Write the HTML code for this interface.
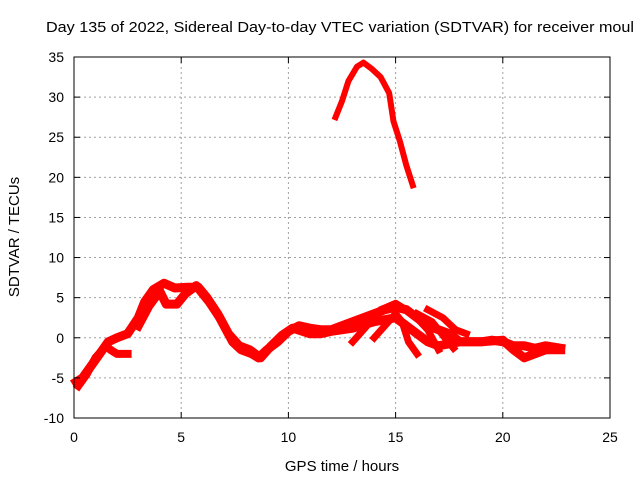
<!DOCTYPE html>
<html><head><meta charset="utf-8"><style>
html,body{margin:0;padding:0;background:#fff;overflow:hidden}
svg{display:block;font-family:"Liberation Sans",sans-serif}
</style></head><body>
<svg id="chart" width="640" height="480">
<text x="46" y="32" font-size="15" textLength="588" lengthAdjust="spacingAndGlyphs" fill="#000">Day 135 of 2022, Sidereal Day-to-day VTEC variation (SDTVAR) for receiver moul</text>
<g id="grid"></g>
<g id="series"></g>
<rect x="74" y="57" width="536" height="361" fill="none" stroke="#000" stroke-width="1"/>
<g id="ticks"></g>
<text x="342" y="471" font-size="15" text-anchor="middle">GPS time / hours</text>
<text transform="translate(19,237) rotate(-90)" font-size="15" text-anchor="middle">SDTVAR / TECUs</text>
</svg>
<script>
const xTicks=[0,5,10,15,20,25];
const yTicks=[-10,-5,0,5,10,15,20,25,30,35];
const traceA_x=[0.1,0.4,0.8,1.2,1.6,2,2.5,3,3.3,3.7,4.2,4.7,5.3,5.8,6.2,6.7,7,7.4,7.8,8.3,8.6,9,9.5,10,10.5,11,11.5,12,12.5,13,13.5,14,14.5,15,15.5,16,16.5,17,17.5,18,18.5,19,19.5,20,20.5,21,21.5,22,22.7];
const traceA_y=[-5.5,-5,-3.5,-2,-0.5,0,0.5,2.5,4.5,6,6.8,6.2,6.3,6.3,5,3,1.5,-0.5,-1.5,-2,-2.5,-1.5,-0.5,0.8,1.5,1.2,1,1,1.5,2,2.5,3,3.5,3.8,3.5,2.5,1.5,1,0.5,-0.5,-0.5,-0.5,-0.3,-0.5,-1,-1,-1.3,-1,-1.3];
const traceB_x=[0.2,0.6,1,1.5,1.7,2,2.5];
const traceB_y=[-6,-4.5,-2.5,-1,-1.5,-2,-2];
const traceC_x=[3,3.5,4,4.3,4.8,5.2,5.7,6.3,6.8,7.2,7.7,8.2,8.7,9.2,9.7,10.2,11,11.5,12,13,14,15,15.5,16,16.5,17,18,19,20,20.5,21,21.5,22,22.7];
const traceC_y=[1.5,4,5.8,4.2,4.2,5.5,6.5,4.5,2.5,0.5,-1,-1.5,-2.5,-1,0.3,1.2,0.5,0.5,0.8,1.2,2,2.5,1.5,0.5,-0.5,-1,-0.5,-0.5,-0.3,-1.5,-2.5,-2,-1.5,-1.5];
const traceD_x=[14,14.5,15,15.3,15.6,16];
const traceD_y=[0,1.5,3,2,-0.5,-2];
const traceE_x=[13,13.5,14.3,15,15.8,16.5,17];
const traceE_y=[-0.5,1,3.5,4.3,3,1,-1.5];
const traceF_x=[16,16.7,17.3,17.7];
const traceF_y=[3,2,0,-1.3];
const traceG_x=[16.5,17.2,17.8,18.3];
const traceG_y=[3.5,2.5,1,0.5];
const traceTop_x=[12.2,12.5,12.8,13.2,13.5,13.9,14.3,14.7,14.9,15.2,15.5,15.8];
const traceTop_y=[27.5,29.5,32,33.8,34.3,33.5,32.5,30.5,27,24.5,21.5,19];
const NS='http://www.w3.org/2000/svg';
function sx(v){return 74+v*(536/25);}
function sy(v){return 418-(v+10)*(361/45);}
const grid=document.getElementById('grid'),ticks=document.getElementById('ticks'),series=document.getElementById('series');
function mk(t,a,p){const e=document.createElementNS(NS,t);for(const k in a)e.setAttribute(k,a[k]);p.appendChild(e);return e;}
xTicks.forEach(v=>{const x=sx(v);
 if(v>0&&v<25){const g=mk('line',{x1:x,y1:57,x2:x,y2:418,stroke:'#a0a0a0','stroke-dasharray':'2,3'},grid);
 
 }
 mk('line',{x1:x,y1:418,x2:x,y2:412,stroke:'#000'},ticks);mk('line',{x1:x,y1:57,x2:x,y2:63,stroke:'#000'},ticks);
 const t=mk('text',{x:x,y:442,'font-size':14,'text-anchor':'middle'},ticks);t.textContent=v;
 
 });
yTicks.forEach(v=>{const y=sy(v);
 if(v>-10&&v<35){const g=mk('line',{x1:74,y1:y,x2:610,y2:y,stroke:'#a0a0a0','stroke-dasharray':'2,3'},grid);
 
 }
 mk('line',{x1:74,y1:y,x2:80,y2:y,stroke:'#000'},ticks);mk('line',{x1:610,y1:y,x2:604,y2:y,stroke:'#000'},ticks);
 const t=mk('text',{x:64,y:y+5,'font-size':14,'text-anchor':'end'},ticks);t.textContent=v;
 
 });
const traces=[[traceA_x,traceA_y,9],[traceB_x,traceB_y,8],[traceC_x,traceC_y,9],[traceD_x,traceD_y,7],[traceE_x,traceE_y,7],[traceF_x,traceF_y,7],[traceG_x,traceG_y,7],[traceTop_x,traceTop_y,6]];
traces.forEach(([xs,ys,w])=>{const pts=xs.map((x,i)=>sx(x)+','+sy(ys[i])).join(' ');
 const p=mk('polyline',{points:pts,fill:'none',stroke:'#ff0000','stroke-width':w,'stroke-linejoin':'round','stroke-linecap':'square'},series);
 
 });
</script>
</body></html>
